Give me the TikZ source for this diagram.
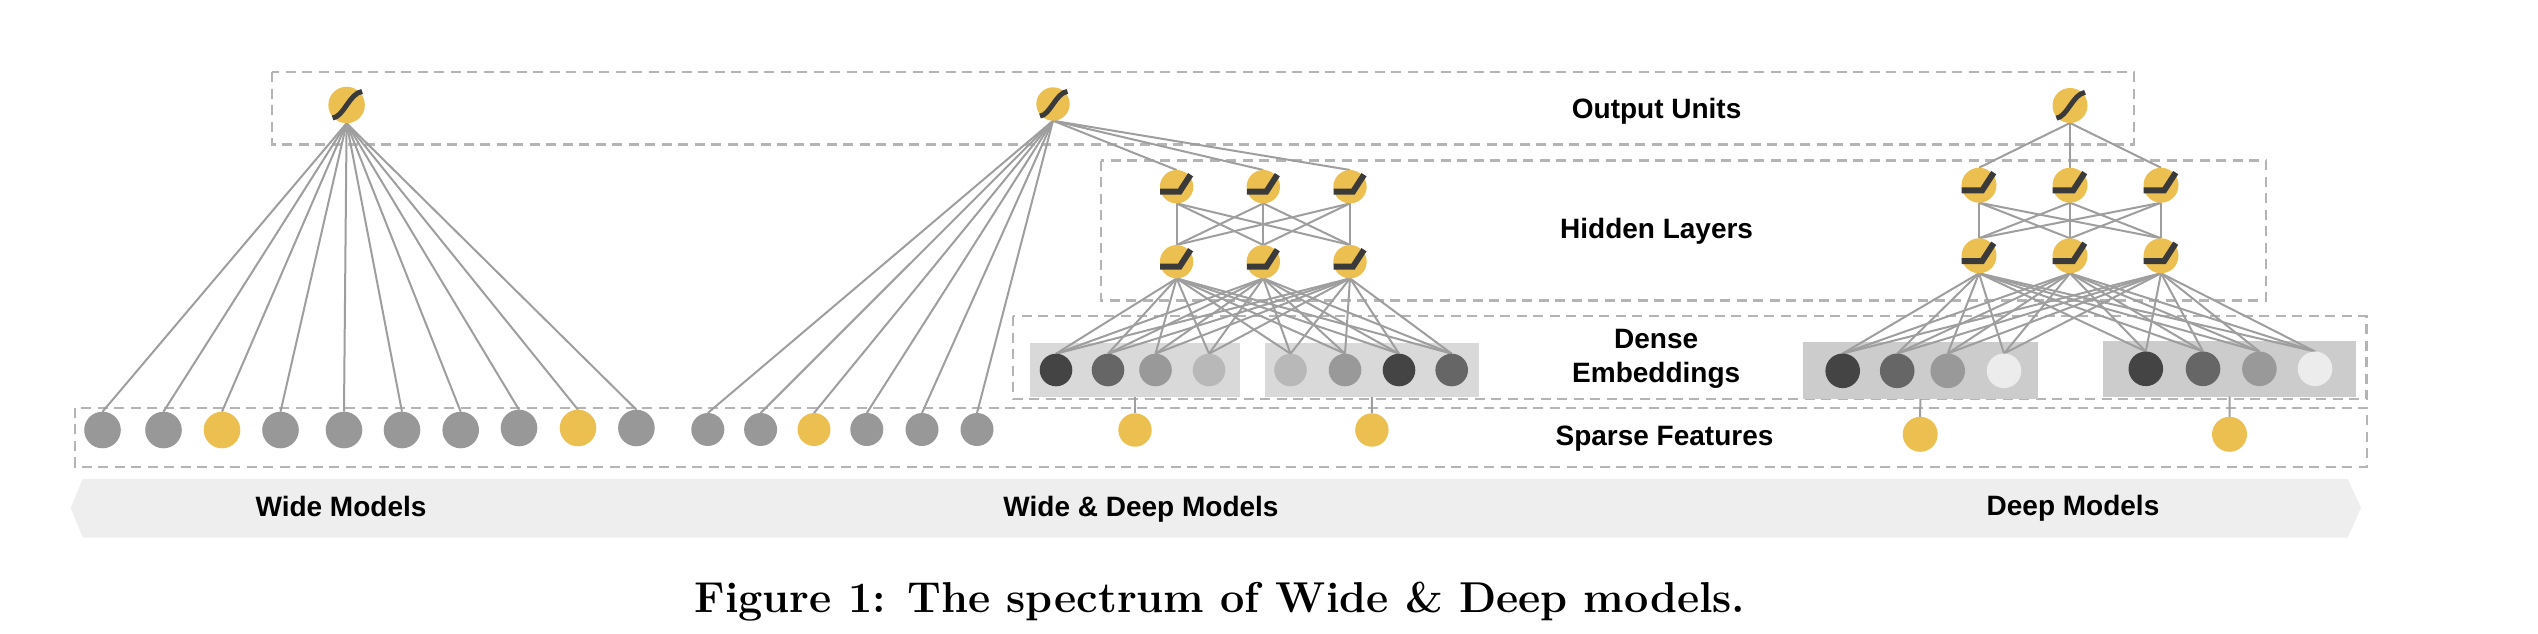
\documentclass[tikz,border=0pt]{standalone}
\usepackage{fontspec}
\setsansfont{Liberation Sans}
\definecolor{ylw}{RGB}{236,192,80}
\definecolor{gsp}{RGB}{152,152,152}
\definecolor{linec}{RGB}{158,158,158}
\definecolor{dashc}{RGB}{180,180,180}
\definecolor{bandc}{RGB}{58,58,58}
\definecolor{embA}{RGB}{68,68,68}
\definecolor{embB}{RGB}{102,102,102}
\definecolor{embC}{RGB}{153,153,153}
\definecolor{embD}{RGB}{184,184,184}
\definecolor{embE}{RGB}{236,236,236}
\definecolor{boxW}{RGB}{217,217,217}
\definecolor{boxD}{RGB}{204,204,204}
\definecolor{bannerc}{RGB}{238,238,238}
\pgfdeclarelayer{back}
\pgfdeclarelayer{mid}
\pgfsetlayers{back,mid,main}
\begin{document}
\begin{tikzpicture}[x=1pt,y=-1pt,
  neuron/.style={circle,inner sep=0pt,outer sep=0pt,draw=none},
  conn/.style={draw=linec,line width=2pt},
  grpbox/.style={draw=dashc,line width=2.4pt,dash pattern=on 10pt off 6.5pt},
  ebox/.style={rectangle,inner sep=0pt,outer sep=0pt,draw=none,anchor=north west},
  sigband/.style={draw=bandc,line width=5pt,line cap=butt},
  reluband/.style={draw=bandc,line width=6pt,line cap=butt,line join=miter},
  lbl/.style={font=\sffamily\bfseries\fontsize{28}{33}\selectfont,anchor=base,inner sep=0pt,align=center},
]
\useasboundingbox (0,0) rectangle (2538,634);

% ---------- background: banner, dashed group boxes, embedding boxes
\begin{pgfonlayer}{back}
\fill[bannerc] (82.7,479) -- (2347.7,479) -- (2361,507.7) -- (2347.7,537.7) -- (82.7,537.7) -- (70.7,507.7) -- cycle;
\draw[grpbox] (272,72.3) rectangle (2134,144.5);
\draw[grpbox] (1101,160.5) rectangle (2266,300.5);
\draw[grpbox] (1013,316) rectangle (2366.5,399);
\draw[grpbox] (74.8,407.7) rectangle (2367,466.7);
\node[ebox,fill=boxW,minimum width=210,minimum height=54] (wb1) at (1030,343) {};
\node[ebox,fill=boxW,minimum width=214.7,minimum height=54] (wb2) at (1264.6,343) {};
\node[ebox,fill=boxD,minimum width=235.5,minimum height=56.7] (db1) at (1802.5,342.3) {};
\node[ebox,fill=boxD,minimum width=253.7,minimum height=56] (db2) at (2102.7,340.7) {};
\end{pgfonlayer}

% ---------- Wide model
\node[neuron,fill=ylw,minimum size=36.5] (wo) at (346.6,105) {};
\foreach \x/\y/\c [count=\i] in {102.5/430/gsp,163.5/430/gsp,222/430/ylw,280.5/430/gsp,344/430/gsp,402/430/gsp,460.7/430/gsp,519/428/gsp,578/428/ylw,636.4/428/gsp}
  \node[neuron,fill=\c,minimum size=36.6] (ws\i) at (\x,\y) {};

% ---------- Wide & Deep model
\node[neuron,fill=ylw,minimum size=33.4] (wdo) at (1053,104) {};
\foreach \x/\c [count=\i] in {707.8/gsp,760.6/gsp,814/ylw,866.8/gsp,922/gsp,977/gsp}
  \node[neuron,fill=\c,minimum size=33] (wds\i) at (\x,429.5) {};
\foreach \x [count=\i] in {1176.6,1263.3,1350} {
  \node[neuron,fill=ylw,minimum size=33.4] (wh1\i) at (\x,186.7) {};
  \node[neuron,fill=ylw,minimum size=33.4] (wh2\i) at (\x,261.7) {};
}
\foreach \x/\c [count=\i] in {1056/embA,1108/embB,1155.5/embC,1209/embD,1290.5/embD,1345/embC,1399/embA,1451.7/embB}
  \node[neuron,fill=\c,minimum size=32.6] (we\i) at (\x,370) {};
\node[neuron,fill=ylw,minimum size=33.4] (wy1) at (1135,430) {};
\node[neuron,fill=ylw,minimum size=33.4] (wy2) at (1371.9,430) {};

% ---------- Deep model
\node[neuron,fill=ylw,minimum size=35] (do) at (2070,105.5) {};
\foreach \x [count=\i] in {1979,2070,2161} {
  \node[neuron,fill=ylw,minimum size=35] (dh1\i) at (\x,185.2) {};
  \node[neuron,fill=ylw,minimum size=35] (dh2\i) at (\x,255.8) {};
}
\foreach \x/\c [count=\i] in {1842.7/embA,1897.2/embB,1947.7/embC,2004/embE}
  \node[neuron,fill=\c,minimum size=34.6] (de\i) at (\x,370.8) {};
\foreach \x/\c [count=\i from 5] in {2145.8/embA,2203/embB,2259.4/embC,2315/embE}
  \node[neuron,fill=\c,minimum size=34.6] (de\i) at (\x,368.8) {};
\node[neuron,fill=ylw,minimum size=35] (dy1) at (1920.2,434.3) {};
\node[neuron,fill=ylw,minimum size=35] (dy2) at (2229.5,434.3) {};

% ---------- connectors
\begin{pgfonlayer}{mid}
\foreach \i in {1,...,10} \draw[conn] (wo.south) -- (ws\i.north);
\foreach \i in {1,...,6} \draw[conn] (wdo.south) -- (wds\i.north);
\foreach \j in {1,2,3} \draw[conn] (wdo.south) -- (wh1\j.north);
\foreach \a in {1,2,3} \foreach \b in {1,2,3} \draw[conn] (wh1\a.south) -- (wh2\b.north);
\foreach \a in {1,2,3} \foreach \b in {1,...,8} \draw[conn] (wh2\a.south) -- (we\b.north);
\draw[conn] (wb1.south) -- (wy1.north);
\draw[conn] (wb2.south) -- (wy2.north);
\foreach \j in {1,2,3} \draw[conn] (do.south) -- (dh1\j.north);
\foreach \a in {1,2,3} \foreach \b in {1,2,3} \draw[conn] (dh1\a.south) -- (dh2\b.north);
\foreach \a in {1,2,3} \foreach \b in {1,...,8} \draw[conn] (dh2\a.south) -- (de\b.north);
\draw[conn] (db1.south) -- (dy1.north);
\draw[conn] (db2.south) -- (dy2.north);
\end{pgfonlayer}

% ---------- activation glyphs
\draw[sigband,shift={(wo.center)}] (-14,13) .. controls (-3,12) and (3,-12) .. (15.5,-13.5);
\draw[sigband,shift={(wdo.center)},scale=0.93] (-14,13) .. controls (-3,12) and (3,-12) .. (15.5,-13.5);
\draw[sigband,shift={(do.center)},scale=0.97] (-14,13) .. controls (-3,12) and (3,-12) .. (15.5,-13.5);
\foreach \n in {wh11,wh12,wh13,wh21,wh22,wh23}
  \draw[reluband,shift={(\n.center)}] (-16.5,5) -- (3,5) -- (14,-12);
\foreach \n in {dh11,dh12,dh13,dh21,dh22,dh23}
  \draw[reluband,shift={(\n.center)},scale=1.05] (-16.5,5) -- (3,5) -- (14,-12);

% ---------- labels
\node[lbl] (lout) at (1656.6,118) {Output Units};
\node[lbl] (lhid) at (1656.6,238) {Hidden Layers};
\node[lbl] (lden) at (1656.2,348) {Dense};
\node[lbl] (lemb) at (1656.2,382) {Embeddings};
\node[lbl] (lspa) at (1664.5,445) {Sparse Features};
\node[lbl] (lwide) at (341,516) {Wide Models};
\node[lbl] (lwd) at (1141,516) {Wide \& Deep Models};
\node[lbl] (ldeep) at (2073,515) {Deep Models};
\node[font=\bfseries\fontsize{43.2}{50}\selectfont,anchor=base,inner sep=0pt] (cap) at (1220,612) {Figure 1: The spectrum of Wide \& Deep models.};
\end{tikzpicture}
\end{document}
